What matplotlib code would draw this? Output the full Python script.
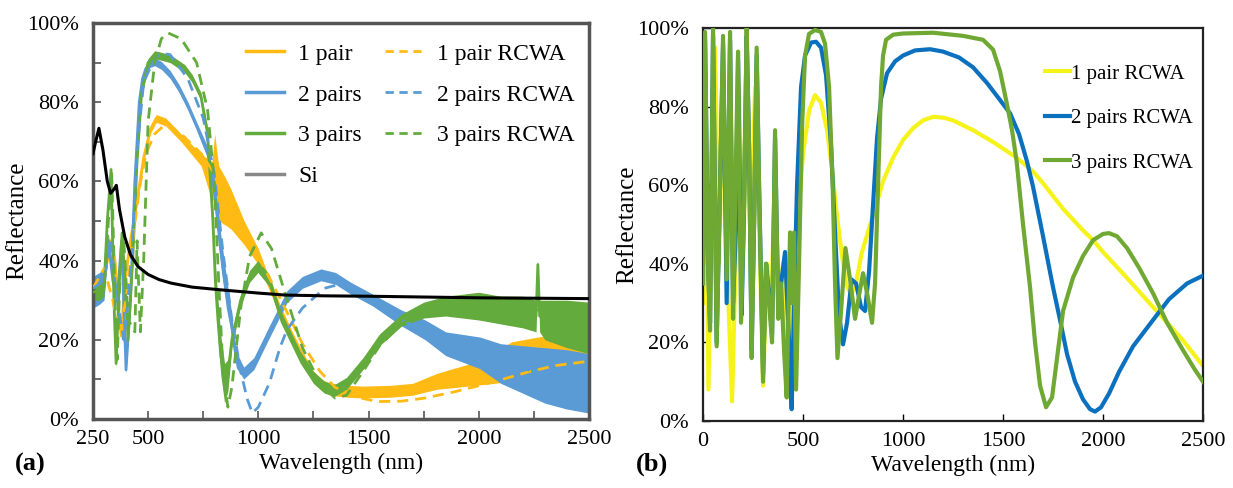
import matplotlib
matplotlib.use("Agg")
import matplotlib.pyplot as plt
from matplotlib.lines import Line2D
from matplotlib.ticker import FixedLocator, FuncFormatter
import numpy as np

plt.rcParams['font.family'] = 'serif'
plt.rcParams['font.serif'] = ['Liberation Serif', 'DejaVu Serif']

# ---------------- Panel (a): measured + RCWA ----------------
si_wl = [250, 262, 277, 295, 315, 330, 345, 356, 370, 394, 420, 454, 500, 550, 605, 700, 832, 1000, 1120, 1300, 1500, 1750, 2000, 2250, 2500]
si_R = [67, 70, 73.4, 68, 60, 57, 58, 59, 53, 46, 41.5, 38.5, 36.5, 35.2, 34.3, 33.3, 32.6, 31.8, 31.3, 31.1, 31.0, 30.8, 30.6, 30.5, 30.4]

p1_wl = [250, 300, 330, 350, 365, 378, 395, 420, 450, 480, 510, 537, 580, 650, 741, 790, 802, 820, 850, 876, 936, 1000, 1050, 1098, 1150, 1189, 1248, 1290, 1325, 1400, 1475, 1600, 1700, 1809, 1900, 2000, 2070, 2150, 2250, 2350, 2450, 2500]
p1_R = [32, 35, 45, 40, 28, 21, 35, 45, 55, 66, 73, 75.9, 75, 71, 65.4, 60, 64, 57, 55, 53, 47, 41, 34, 27.5, 21, 16.7, 10.7, 8.5, 7.5, 7, 6.8, 7, 7.5, 9.5, 10.5, 11.6, 13, 14.5, 15.5, 16, 15, 14]
p1_noise = [1, 1, 1, 1, 1, 1, 1, 1, 1, 1, 1, 1, 1, 1, 1.5, 5, 8, 7, 6, 5, 3, 2, 1.5, 1.5, 1.5, 1.5, 1.5, 1.5, 1.5, 1.5, 1.5, 1.5, 1.5, 2, 2.5, 3, 4, 5, 5, 5.5, 5, 4]

p2_wl = [250, 280, 300, 320, 340, 360, 380, 400, 420, 440, 460, 475, 490, 510, 530, 560, 600, 640, 681, 720, 772, 800, 831, 855, 876, 900, 934, 980, 1050, 1130, 1200, 1284, 1350, 1420, 1520, 1650, 1757, 1850, 2005, 2100, 2200, 2300, 2400, 2500]
p2_R = [32, 33, 34, 45, 35, 30, 45, 12.4, 30, 60, 80, 86, 88.5, 89.8, 90.2, 89.3, 87, 83.5, 79, 74, 67, 58, 42, 32, 25, 15, 11.6, 14, 22, 30.9, 34.5, 36.4, 35.5, 33, 30, 25.5, 22.5, 19, 16.7, 14, 12.5, 11, 10, 9]
p2_noise = [4, 4, 4, 2, 2, 1.5, 1.5, 1, 1, 1, 1, 1, 1, 1, 1, 1, 1, 1, 1, 1, 1.5, 3, 4, 4, 3, 2, 1.5, 1.5, 1.5, 1.5, 1.5, 1.5, 1.5, 1.5, 1.5, 2, 2.5, 3, 4, 5, 6, 7, 7.5, 7.5]

p3_wl = [250, 280, 300, 315, 332, 345, 355, 370, 382, 395, 409, 430, 450, 470, 500, 530, 560, 600, 666, 700, 740, 770, 794, 805, 817, 830, 847, 862, 880, 920, 960, 998, 1050, 1100, 1189, 1250, 1300, 1348, 1400, 1475, 1550, 1650, 1750, 1850, 2000, 2100, 2200, 2260, 2268, 2276, 2300, 2400, 2500]
p3_R = [32, 32, 33, 50, 63, 30, 14, 35, 47, 35, 20, 40, 65, 82, 90, 92, 91.6, 91, 88.5, 86, 81.4, 72, 50, 35, 25, 16, 9, 11, 20, 30, 36, 38.5, 35, 26, 15.7, 10.5, 8, 7.3, 9, 14, 20, 25, 27.5, 28.5, 28.5, 27.5, 27, 26, 39, 26, 25, 24, 23]
p3_noise = [2, 2, 2, 1, 1, 1, 1, 1, 1, 1, 1, 1, 1, 1, 1, 1, 1, 1, 1, 1, 1, 1.5, 3, 4, 5, 5, 5, 4, 2, 1.5, 1.5, 1.5, 1.5, 1.5, 1.5, 1.5, 1.5, 1.5, 1.5, 1.5, 1.5, 1.5, 2, 2.5, 3.5, 3.5, 4, 4, 1, 4, 5, 6, 6.5]

r1_wl = [250, 300, 340, 370, 400, 430, 460, 490, 530, 580, 650, 741, 800, 850, 900, 950, 1000, 1075, 1130, 1200, 1280, 1348, 1450, 1537, 1650, 1757, 1900, 2070, 2225, 2350, 2500]
r1_R = [33, 38, 30, 22, 30, 45, 58, 67, 72, 74.5, 72, 67, 62, 56, 51, 46, 41, 33, 27, 19, 12, 8, 5.5, 4.4, 4.5, 5.3, 7, 9.4, 11.9, 13.5, 14.6]

r2_wl = [250, 300, 330, 360, 390, 410, 430, 450, 480, 520, 554, 600, 680, 750, 800, 840, 880, 920, 950, 973, 1000, 1050, 1098, 1130, 1200, 1300, 1400, 1480, 1520, 1650, 1757, 2000, 2250, 2500]
r2_R = [33, 35, 45, 30, 20, 30, 45, 68, 85, 90, 92.4, 92, 86, 76, 62, 42, 25, 12, 5, 1.5, 3, 9, 18, 22.5, 28, 33, 34.5, 32, 30, 25, 22, 16, 12, 9]

r3_wl = [250, 300, 320, 335, 350, 360, 375, 390, 410, 440, 450, 465, 480, 500, 530, 560, 590, 650, 720, 770, 800, 820, 840, 862, 880, 920, 960, 1013, 1060, 1120, 1200, 1280, 1348, 1400, 1475, 1550, 1650, 1750, 1850, 2000, 2200, 2500]
r3_R = [32, 33, 50, 62, 30, 15, 40, 45, 25, 22, 45, 22, 40, 75, 90, 96, 97.5, 96, 90, 78, 60, 35, 12, 3, 8, 28, 41, 47, 43, 32, 18, 9, 5.3, 6, 12, 18.5, 24, 27, 28.5, 29, 28, 26]

# ---------------- Panel (b): RCWA ----------------
b1_wl = [0, 10, 27, 45, 60, 80, 100, 120, 145, 165, 180, 200, 220, 240, 260, 285, 300, 320, 340, 360, 380, 400, 420, 440, 470, 500, 530, 560, 590, 620, 645, 670, 693, 715, 740, 765, 793, 830, 860, 900, 950, 1000, 1050, 1100, 1150, 1200, 1250, 1350, 1450, 1568, 1650, 1700, 1800, 1900, 1950, 2000, 2100, 2250, 2400, 2500]
b1_R = [30, 90, 8, 60, 95, 40, 85, 40, 5, 45, 85, 40, 85, 45, 85, 40, 9, 40, 30, 60, 30, 40, 6, 30, 50, 68, 79, 82.9, 81, 74, 64, 52, 42.7, 35, 32, 35, 42.7, 49, 54, 61, 67, 71.5, 74.5, 76.5, 77.4, 77.2, 76.5, 74, 71, 67, 63.5, 60.5, 54, 48.5, 46, 43, 37.5, 29, 20.5, 14]

b2_wl = [0, 10, 25, 35, 50, 68, 85, 100, 118, 135, 150, 165, 175, 193, 205, 218, 230, 243, 255, 268, 280, 300, 315, 330, 345, 360, 376, 390, 410, 430, 443, 455, 470, 490, 510, 540, 565, 590, 615, 640, 660, 680, 700, 720, 743, 765, 790, 810, 830, 850, 870, 890, 920, 960, 1000, 1060, 1135, 1200, 1280, 1350, 1420, 1480, 1535, 1580, 1620, 1650, 1700, 1750, 1785, 1820, 1860, 1900, 1935, 1960, 1990, 2030, 2080, 2150, 2250, 2330, 2420, 2500]
b2_R = [40, 97, 40, 25, 98, 20, 60, 96, 30, 97, 30, 50, 92, 27, 55, 98, 70, 18, 50, 93, 60, 12, 40, 32, 22, 72, 28, 35, 43, 20, 3, 30, 60, 85, 93, 96.3, 96.5, 95, 88, 70, 48, 27, 19.5, 25, 36, 35, 29, 28, 38, 55, 72, 82, 88.5, 91.5, 93, 94.3, 94.6, 94, 92.5, 90, 86, 82, 78.3, 73, 66, 59.6, 47, 34, 25.7, 17, 10, 5.5, 3, 2.4, 3.5, 7, 12.5, 19, 25.7, 31, 35, 37]

b3_wl = [0, 10, 25, 35, 50, 68, 85, 100, 118, 135, 150, 162, 175, 190, 205, 218, 230, 243, 255, 268, 280, 300, 315, 330, 345, 360, 376, 390, 405, 418, 435, 445, 455, 465, 480, 495, 510, 530, 560, 590, 610, 630, 648, 660, 672, 690, 712, 735, 760, 780, 800, 822, 845, 860, 875, 890, 900, 915, 950, 1000, 1150, 1300, 1400, 1450, 1485, 1518, 1545, 1568, 1600, 1635, 1660, 1685, 1715, 1745, 1770, 1800, 1850, 1900, 1950, 2000, 2030, 2070, 2120, 2180, 2250, 2320, 2400, 2460, 2500]
b3_R = [35, 99, 40, 23, 100, 19, 60, 98, 36, 99, 26, 60, 94, 25, 55, 100, 70, 16, 50, 95, 60, 10, 40, 30, 20, 74, 26, 35, 18, 6, 48, 30, 48, 8, 40, 75, 93, 98.5, 99.5, 99, 96, 85, 60, 35, 16, 28, 44, 36, 26, 32, 37.6, 32, 25, 35, 60, 85, 93, 97, 98.3, 98.6, 98.8, 98, 97, 94.5, 89, 81, 74, 66, 50, 34, 20, 9, 3.5, 6, 16, 28, 36.5, 42, 46, 47.6, 47.8, 47, 44, 39, 32.5, 25, 18, 13, 10]

# labels
a_labels = ['1 pair', '2 pairs', '3 pairs', 'Si', '1 pair RCWA', '2 pairs RCWA', '3 pairs RCWA']
b_labels = ['1 pair RCWA', '2 pairs RCWA', '3 pairs RCWA']
a_xticks = [250, 500, 750, 1000, 1250, 1500, 1750, 2000, 2250, 2500]
a_xticklabels = ['250', '500', '', '1000', '', '1500', '', '2000', '', '2500']
b_xticks = [0, 500, 1000, 1500, 2000, 2500]
y_ticks = [0, 20, 40, 60, 80, 100]

C_OR = '#FFBA13'
C_BL = '#5B9BD5'
C_GR = '#63AB3C'
CB_Y = '#F6F31A'
CB_B = '#0B70BE'
CB_G = '#6FA832'

fig = plt.figure(figsize=(12.33, 4.88), dpi=100)
axA = fig.add_axes([0.0754, 0.1414, 0.4023, 0.8115])
axB = fig.add_axes([0.5702, 0.1373, 0.4055, 0.8053])

pct = FuncFormatter(lambda v, p: f"{v:.0f}%")

# --- panel a drawing
def noisy(ax, wl, R, nz, color):
    wl = np.asarray(wl, float); R = np.asarray(R, float); nz = np.asarray(nz, float)
    ax.fill_between(wl, R - nz, R + nz, color=color, lw=0, zorder=2)
    ax.plot(wl, R, color=color, lw=2.0, zorder=2)

noisy(axA, p1_wl, p1_R, p1_noise, C_OR)
noisy(axA, p2_wl, p2_R, p2_noise, C_BL)
noisy(axA, p3_wl, p3_R, p3_noise, C_GR)
axA.plot(r1_wl, r1_R, color=C_OR, lw=2, ls=(0, (4, 2.5)), zorder=3)
axA.plot(r2_wl, r2_R, color=C_BL, lw=2, ls=(0, (4, 2.5)), zorder=3)
axA.plot(r3_wl, r3_R, color=C_GR, lw=2, ls=(0, (4, 2.5)), zorder=3)
axA.plot(si_wl, si_R, color='black', lw=2.2, zorder=4)

axA.set_xlim(250, 2500)
axA.set_ylim(0, 100)
axA.xaxis.set_major_locator(FixedLocator(a_xticks))
axA.set_xticklabels(a_xticklabels)
axA.yaxis.set_major_locator(FixedLocator(y_ticks))
axA.yaxis.set_minor_locator(FixedLocator([10, 30, 50, 70, 90]))
axA.yaxis.set_major_formatter(pct)
axA.tick_params(direction='in', length=6, width=1.2, color='#555555', labelsize=16)
axA.tick_params(axis='x', pad=8)
axA.tick_params(axis='y', pad=10)
axA.tick_params(which='minor', direction='in', length=6, width=1.2, color='#555555')
for s in axA.spines.values():
    s.set_color('#555555'); s.set_linewidth(2.5)

handles = [Line2D([], [], color=C_OR, lw=2.5), Line2D([], [], color=C_BL, lw=2.5),
           Line2D([], [], color=C_GR, lw=2.5), Line2D([], [], color='#888888', lw=2.5),
           Line2D([], [], color=C_OR, lw=2, ls=(0, (3, 2))), Line2D([], [], color=C_BL, lw=2, ls=(0, (3, 2))),
           Line2D([], [], color=C_GR, lw=2, ls=(0, (3, 2)))]
axA.legend(handles, a_labels, ncol=2, frameon=False, fontsize=17, loc='upper right',
           bbox_to_anchor=(1.0, 0.985), handlelength=1.6, handletextpad=0.6,
           columnspacing=1.0, labelspacing=0.82, borderaxespad=0.2)

# --- panel b drawing
axB.plot(b1_wl, b1_R, color=CB_Y, lw=3, zorder=2, label=b_labels[0])
axB.plot(b2_wl, b2_R, color=CB_B, lw=3, zorder=3, label=b_labels[1])
axB.plot(b3_wl, b3_R, color=CB_G, lw=3, zorder=4, label=b_labels[2])
axB.set_xlim(0, 2500)
axB.set_ylim(0, 100)
axB.xaxis.set_major_locator(FixedLocator(b_xticks))
axB.yaxis.set_major_locator(FixedLocator(y_ticks))
axB.yaxis.set_major_formatter(pct)
axB.tick_params(direction='in', length=5, width=1, labelsize=16)
axB.tick_params(axis='x', pad=8)
axB.tick_params(axis='y', pad=10)
for s in axB.spines.values():
    s.set_color('#222222'); s.set_linewidth(1.6)
axB.legend(frameon=False, fontsize=15, loc='upper right', bbox_to_anchor=(1.0, 0.935),
           handlelength=1.2, handletextpad=0.05, labelspacing=1.2, borderaxespad=0.1)

for ax in (axA, axB):
    ax.set_xlabel('Wavelength (nm)', fontsize=17, labelpad=3)
    ax.set_ylabel('Reflectance', fontsize=18, labelpad=-1)

fig.text(0.012, 0.035, '(a)', fontsize=19, fontweight='bold')
fig.text(0.516, 0.035, '(b)', fontsize=19, fontweight='bold')

fig.savefig('out.png', dpi=100, facecolor='white')
